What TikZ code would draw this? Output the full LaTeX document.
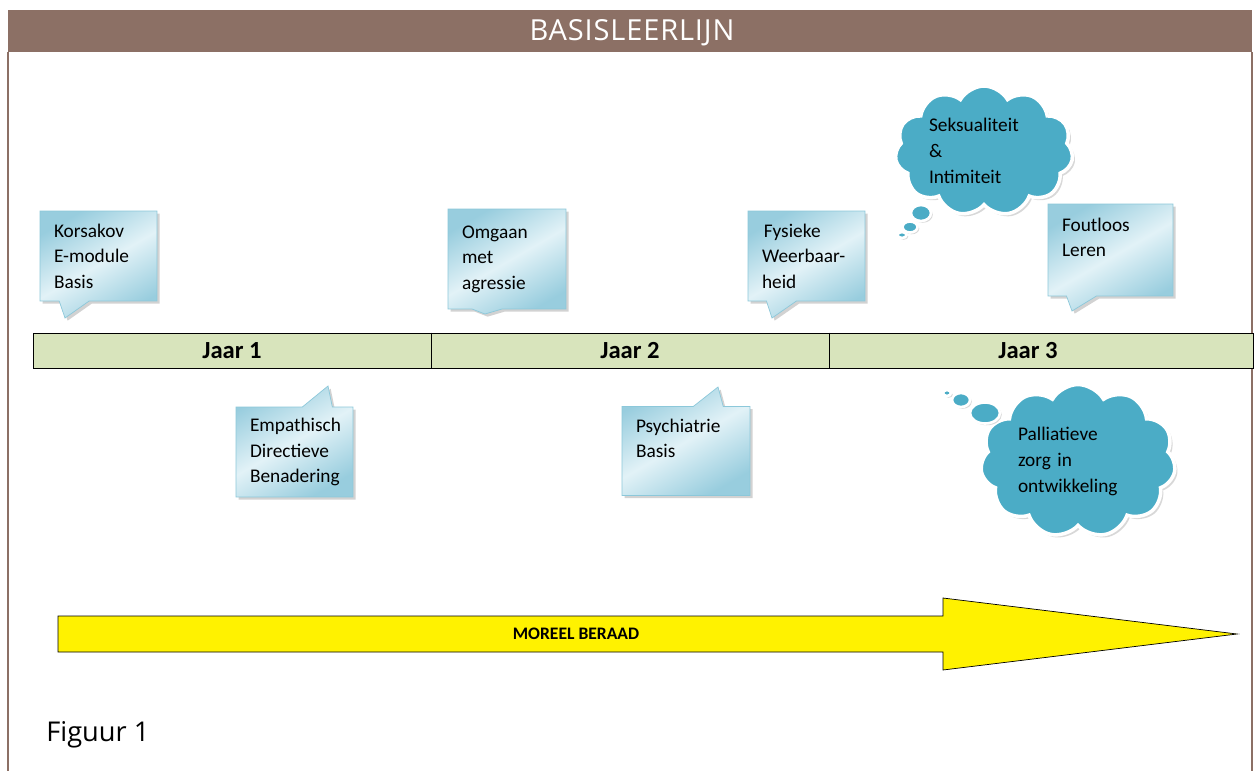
\documentclass[tikz,border=0pt]{standalone}
\usepackage{fontspec}
\setmainfont{Carlito}
\newfontfamily\titlefont{Open Sans}
\newfontfamily\headfont[LetterSpace=3]{Open Sans}
\usetikzlibrary{shapes.callouts,shapes.symbols,shapes.geometric,shadows}
\definecolor{headbrown}{RGB}{140,112,101}
\definecolor{yeargreen}{RGB}{216,228,188}
\definecolor{balloondark}{RGB}{152,205,222}
\definecolor{balloonlight}{RGB}{226,242,247}
\definecolor{balloonedge}{RGB}{140,200,218}
\definecolor{cloudblue}{RGB}{75,172,198}
\tikzset{
	yearcell/.style={minimum width=7.96cm,minimum height=0.7cm,inner sep=0pt,font=\fontsize{14}{16}\selectfont\bfseries},
	balloon/.style={rectangle callout,draw=balloonedge,left color=balloondark,right color=balloondark,middle color=balloonlight,shading angle=30,
		drop shadow={opacity=0.35,shadow xshift=1.5pt,shadow yshift=-1.5pt},
		inner xsep=0.28cm,inner ysep=0.2cm,align=left,font=\fontsize{11}{14.5}\selectfont,callout pointer width=0.6cm},
	thought/.style={cloud,cloud puffs=11,cloud puff arc=120,cloud ignores aspect,draw=white,line width=2pt,fill=cloudblue,
		drop shadow={opacity=0.3,shadow xshift=1.5pt,shadow yshift=-1.5pt},align=left,font=\fontsize{11}{14.8}\selectfont,inner sep=0pt},
	bubble/.style={ellipse,draw=white,line width=1.5pt,fill=cloudblue,inner sep=0pt,
		drop shadow={opacity=0.3,shadow xshift=1pt,shadow yshift=-1pt}}
}
\begin{document}
\begin{tikzpicture}[x=0.02cm,y=-0.02cm]
	\useasboundingbox[fill=white](0,0) rectangle (1255,771);
	% kader
	\node[fill=headbrown,minimum width=24.88cm,minimum height=0.84cm,inner sep=0pt] (head) at(630,31){};
	\node[text=white,inner sep=0pt,font=\headfont\fontsize{16.5}{18}\selectfont] (titel) at(632,33){BASISLEERLIJN};
	\draw[headbrown,line width=1pt](8,52)--(8,771);
	\draw[headbrown,line width=1pt](1252,52)--(1252,771);
	% jaren
	\draw[fill=yeargreen](33,333) rectangle (1253,368);
	\node[yearcell] (jaar1) at(232,350.5){Jaar 1};
	\node[yearcell] (jaar2) at(630,350.5){Jaar 2};
	\node[yearcell] (jaar3) at(1028,350.5){Jaar 3};
	\draw(jaar1.north east)--(jaar1.south east);
	\draw(jaar2.north east)--(jaar2.south east);
	% boven de balk
	\node[balloon,text width=1.78cm,minimum height=1.8cm,callout absolute pointer={(65,318)}] (korsakov) at(98.5,256){Korsakov\\E-module\\Basis};
	\node[balloon,text width=1.80cm,minimum height=2.0cm,callout absolute pointer={(485,314)}] (agressie) at(507,259){Omgaan\\met\\agressie};
	\node[balloon,text width=1.78cm,minimum height=1.8cm,callout absolute pointer={(772,318)}] (weerbaar) at(806.5,256){\hspace{1pt}Fysieke\\Weerbaar-\\heid};
	\node[balloon,text width=1.94cm,minimum height=1.84cm,callout absolute pointer={(1072,311)}] (foutloos) at(1110.5,250){Foutloos\\Leren\\~};
	\node[thought,minimum width=3.56cm,minimum height=2.6cm,text width=2.2cm] (seks) at(984,151){Seksualiteit\\\&\\Intimiteit};
	\node[bubble,minimum width=0.4cm,minimum height=0.32cm] (seks1) at(921,213){};
	\node[bubble,minimum width=0.3cm,minimum height=0.22cm] (seks2) at(910,227){};
	\node[bubble,minimum width=0.18cm,minimum height=0.12cm] (seks3) at(902,235){};
	% onder de balk
	\node[balloon,text width=1.78cm,minimum height=1.8cm,callout absolute pointer={(328,386)}] (empathisch) at(294.5,452){Empathisch\\Directieve\\Benadering};
	\node[balloon,text width=2.0cm,minimum height=1.78cm,callout absolute pointer={(718,387)}] (psych) at(686,451){Psychiatrie\\Basis\\~};
	\node[thought,minimum width=3.9cm,minimum height=3.06cm,text width=2.4cm] (palliatief) at(1078,461){Palliatieve\\zorg in\\ontwikkeling};
	\node[bubble,minimum width=0.6cm,minimum height=0.42cm] (pall1) at(985,413){};
	\node[bubble,minimum width=0.36cm,minimum height=0.28cm] (pall2) at(961,400){};
	\node[bubble,minimum width=0.16cm,minimum height=0.12cm] (pall3) at(947,393){};
	% pijl
	\draw[fill=yellow](58,616)--(943,616)--(943,598)--(1237,634)--(943,670)--(943,652)--(58,652)--cycle;
	\node[font=\fontsize{10}{12}\selectfont\bfseries] (beraad) at(576,634){MOREEL BERAAD};
	\node[anchor=west,inner sep=0pt,font=\titlefont\fontsize{15.5}{18}\selectfont] (figuur) at(46,735){Figuur 1};
\end{tikzpicture}
\end{document}
